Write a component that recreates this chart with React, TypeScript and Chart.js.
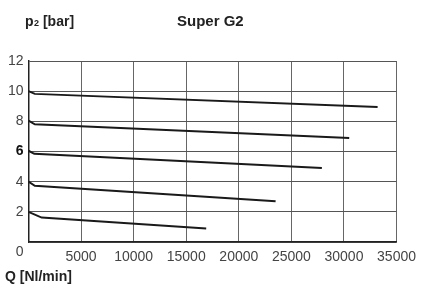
import React, { useEffect, useRef } from "react";
import { Chart, registerables } from "chart.js";

Chart.register(...registerables);

// Data
const flow10 = [0, 600, 33200];
const pressure10 = [10, 9.82, 8.95];
const flow8 = [0, 600, 30500];
const pressure8 = [8.05, 7.8, 6.9];
const flow6 = [0, 550, 27900];
const pressure6 = [6.05, 5.85, 4.9];
const flow4 = [0, 600, 23500];
const pressure4 = [4.0, 3.73, 2.7];
const flow2 = [0, 1250, 16900];
const pressure2 = [2.0, 1.62, 0.9];

const xTicks = [0, 5000, 10000, 15000, 20000, 25000, 30000, 35000];
const yTicks = [0, 2, 4, 6, 8, 10, 12];

const titleLeft = "p";
const titleSub = "2";
const titleUnit = " [bar]";
const titleRight = "Super G2";
const xTitle = "Q [Nl/min]";

const FONT = "'Liberation Sans', Arial, Helvetica, sans-serif";

const pts = (xs: number[], ys: number[]) => xs.map((x, i) => ({ x, y: ys[i] }));

const textPlugin = {
  id: "texts",
  afterDraw(chart: any) {
    const ctx = chart.ctx;
    const ys = chart.scales.y;
    const xs = chart.scales.x;
    ctx.save();
    ctx.fillStyle = "#222";
    ctx.textBaseline = "middle";
    // top-left label p2 [bar]
    ctx.font = `bold 14px ${FONT}`;
    let x = 25;
    const y = 22;
    ctx.textAlign = "left";
    ctx.fillText(titleLeft, x, y);
    x += ctx.measureText(titleLeft).width;
    ctx.font = `bold 9px ${FONT}`;
    ctx.fillText(titleSub, x + 0.5, y + 2);
    x += ctx.measureText(titleSub).width + 0.5;
    ctx.font = `bold 14px ${FONT}`;
    ctx.fillText(titleUnit, x, y);
    // product name
    ctx.font = `bold 15px ${FONT}`;
    ctx.fillText(titleRight, 177, y);
    // x axis title
    ctx.font = `bold 14px ${FONT}`;
    ctx.fillText(xTitle, 5, 277);
    // the "0" at the corner
    ctx.font = `14px ${FONT}`;
    ctx.fillStyle = "#444";
    ctx.textAlign = "right";
    ctx.fillText("0", xs.left - 5, ys.getPixelForValue(0) + 10);
    ctx.restore();
  },
};

export default function App() {
  const ref = useRef<HTMLCanvasElement>(null);
  useEffect(() => {
    document.body.style.margin = "0";
    const lineStyle = {
      borderColor: "#1a1a1a",
      borderWidth: 2,
      pointRadius: 0,
      showLine: true,
      fill: false,
      tension: 0,
    };
    const chart = new Chart(ref.current!, {
      type: "scatter",
      data: {
        datasets: [
          { label: "10 bar", data: pts(flow10, pressure10), ...lineStyle },
          { label: "8 bar", data: pts(flow8, pressure8), ...lineStyle },
          { label: "6 bar", data: pts(flow6, pressure6), ...lineStyle },
          { label: "4 bar", data: pts(flow4, pressure4), ...lineStyle },
          { label: "2 bar", data: pts(flow2, pressure2), ...lineStyle },
        ],
      },
      options: {
        animation: false,
        responsive: false,
        maintainAspectRatio: false,
        layout: { padding: { top: 61, right: 24, left: 0, bottom: 0 } },
        plugins: {
          legend: { display: false },
          tooltip: { enabled: false },
          title: { display: false },
        },
        scales: {
          x: {
            type: "linear",
            min: 0,
            max: 35000,
            afterBuildTicks: (s: any) => {
              s.ticks = xTicks.map((v) => ({ value: v }));
            },
            afterFit: (s: any) => {
              s.height = 42;
            },
            grid: { color: "#666", lineWidth: 1, drawTicks: false },
            border: { color: "#222", width: 1.5 },
            ticks: {
              padding: 7,
              color: "#444",
              font: { family: FONT, size: 14 },
              maxRotation: 0,
              autoSkip: false,
              callback: (v: any) => (v === 0 ? "" : String(v)),
            },
          },
          y: {
            type: "linear",
            min: 0,
            max: 12,
            afterBuildTicks: (s: any) => {
              s.ticks = yTicks.map((v) => ({ value: v }));
            },
            afterFit: (s: any) => {
              s.width = 28.5;
            },
            grid: { color: "#555", lineWidth: 1, drawTicks: false },
            border: { color: "#222", width: 1.5 },
            ticks: {
              padding: 5,
              color: (c: any) => (c.tick && c.tick.value === 6 ? "#111" : "#444"),
              font: (c: any) =>
                c.tick && c.tick.value === 6
                  ? { family: FONT, size: 14, weight: "bold" }
                  : { family: FONT, size: 14 },
              callback: (v: any) => (v === 0 ? "" : String(v)),
            },
          },
        },
      },
      plugins: [textPlugin],
    } as any);
    return () => chart.destroy();
  }, []);
  return <canvas ref={ref} width={423} height={284} style={{ display: "block" }} />;
}
